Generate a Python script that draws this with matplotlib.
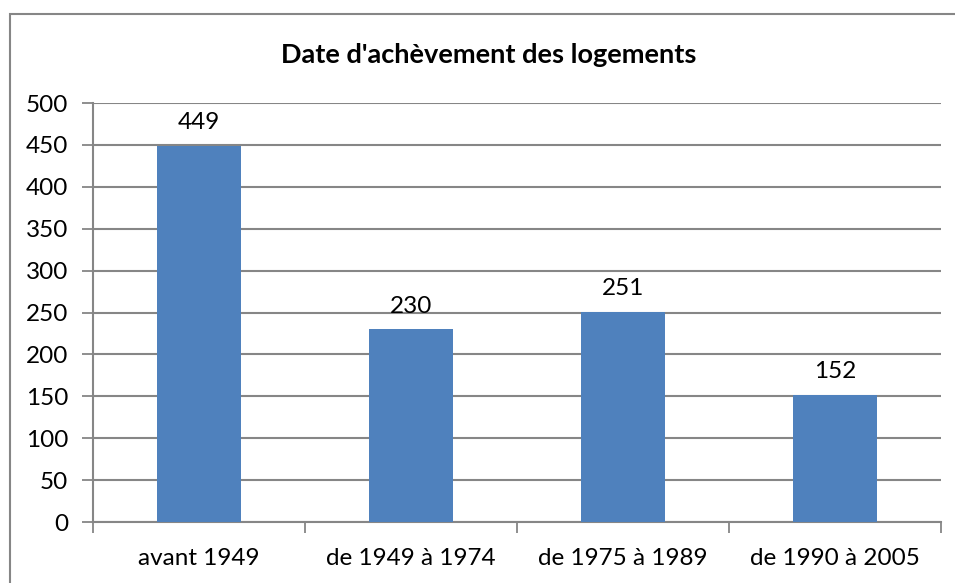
# Date d'achèvement des logements - bar chart
import numpy as np
import matplotlib.pyplot as plt
from matplotlib.patches import Rectangle

categories = ['avant 1949', 'de 1949 à 1974', 'de 1975 à 1989', 'de 1990 à 2005']
values = [449, 230, 251, 152]
yticks = list(range(0, 501, 50))

plt.rcParams['font.family'] = ['Lato', 'DejaVu Sans']

fig = plt.figure(figsize=(9.55, 5.83), dpi=100)
ax = fig.add_axes([0.0974, 0.1046, 0.8879, 0.7187])

# chart frame (cut by the image on right and bottom)
fig.patches.append(Rectangle((10 / 955, -0.05), 1.0, 1 - 14 / 583 + 0.05,
                             transform=fig.transFigure, fill=False,
                             edgecolor='#868686', linewidth=1.5))

x = np.arange(len(categories))
bars = ax.bar(x, values, width=0.4, color='#4F81BD', zorder=3)
for b, v in zip(bars, values):
    ax.annotate(str(v), (b.get_x() + b.get_width() / 2, v), xytext=(0, 9),
                textcoords='offset points', ha='center', va='bottom', fontsize=17.5)

ax.set_xlim(-0.5, len(categories) - 0.5)
ax.set_ylim(0, 500)
ax.set_yticks(yticks)
ax.tick_params(axis='y', labelsize=17.5, length=8, width=1.3, color='#868686', pad=10)
ax.set_xticks(x)
ax.set_xticklabels(categories)
ax.tick_params(axis='x', which='major', length=0, labelsize=17.5, pad=19)
ax.set_xticks(np.arange(-0.5, len(categories)), minor=True)
ax.tick_params(axis='x', which='minor', length=8, width=1.3, color='#868686')

ax.grid(axis='y', color='#868686', linewidth=1.5, zorder=0)
for s in ['top', 'right']:
    ax.spines[s].set_visible(False)
for s in ['left', 'bottom']:
    ax.spines[s].set_color('#868686')
    ax.spines[s].set_linewidth(1.5)

fig.text(0.512, 1 - 55 / 583, "Date d'achèvement des logements", ha='center', va='center',
         fontsize=19.5, fontweight='bold')

fig.savefig('out.png', dpi=100)
